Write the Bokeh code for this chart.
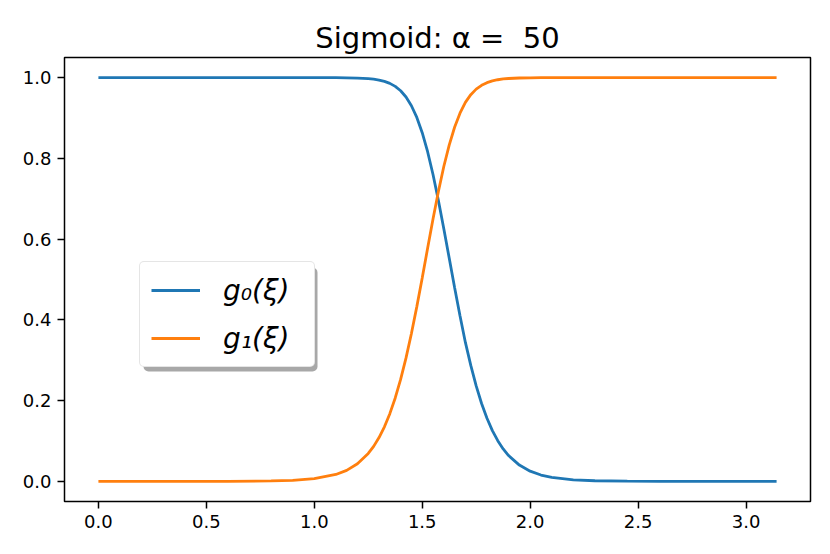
from bokeh.plotting import figure
from bokeh.models import (Range1d, FixedTicker, Legend, LegendItem,
                          NumeralTickFormatter, BoxAnnotation)
from bokeh.embed import file_html
from bokeh.resources import INLINE

# values
xi = [0.0, 0.3, 0.6, 0.8, 0.9, 1.0, 1.1, 1.15, 1.2, 1.25, 1.275, 1.3, 1.325, 1.35,
      1.375, 1.4, 1.425, 1.45, 1.475, 1.5, 1.525, 1.55, 1.575, 1.6, 1.625, 1.65,
      1.675, 1.7, 1.725, 1.75, 1.775, 1.8, 1.825, 1.85, 1.875, 1.9, 1.95, 2.0,
      2.05, 2.1, 2.2, 2.3, 2.45, 2.6, 2.85, 3.14159]
g0 = [1.0, 1.0, 1.0, 1.0, 1.0, 1.0, 0.9999, 0.9996, 0.999, 0.9976, 0.9962, 0.9941,
      0.9908, 0.9859, 0.9785, 0.9676, 0.9521, 0.9305, 0.9015, 0.8637, 0.8166,
      0.7602, 0.6959, 0.6258, 0.5532, 0.4802, 0.4102, 0.3441, 0.2871, 0.2363,
      0.1928, 0.1561, 0.1256, 0.1006, 0.0803, 0.0639, 0.0402, 0.0251, 0.0156,
      0.0097, 0.0037, 0.0014, 0.0004, 0.0001, 0.0, 0.0]
g1 = [0.0, 0.0, 0.0001, 0.001, 0.0025, 0.0065, 0.0169, 0.0272, 0.0435, 0.069,
      0.0866, 0.1084, 0.1351, 0.1676, 0.2065, 0.2524, 0.3058, 0.3662, 0.4328,
      0.504, 0.5772, 0.6497, 0.7182, 0.78, 0.8331, 0.8772, 0.912, 0.9389, 0.9579,
      0.9717, 0.9812, 0.9877, 0.9921, 0.9949, 0.9968, 0.998, 0.9992, 0.9997,
      0.9999, 1.0, 1.0, 1.0, 1.0, 1.0, 1.0, 1.0]
x_ticks = [0.0, 0.5, 1.0, 1.5, 2.0, 2.5, 3.0]
y_ticks = [0.0, 0.2, 0.4, 0.6, 0.8, 1.0]
labels = ["g\u2080(\u03be)", "g\u2081(\u03be)"]
colors = ["#1f77b4", "#ff7f0e"]
title_text = "Sigmoid: \u03b1 =\u00a0 50"

FONT = "DejaVu Sans"

p = figure(width=820, height=546, output_backend="svg", toolbar_location=None,
           x_range=Range1d(-0.1571, 3.2987), y_range=Range1d(-0.05, 1.05),
           min_border_left=64, min_border_right=10, min_border_top=57,
           min_border_bottom=45)
p.title.text = title_text
p.title.align = "center"
p.title.text_font = FONT
p.title.text_font_size = "29px"
p.title.text_font_style = "normal"
p.title.text_color = "black"
p.title.standoff = 6

p.grid.visible = False
p.outline_line_color = "black"
p.outline_line_width = 1.5
p.outline_line_alpha = 1.0

for ax, ticks in ((p.xaxis, x_ticks), (p.yaxis, y_ticks)):
    ax.ticker = FixedTicker(ticks=ticks)
    ax.formatter = NumeralTickFormatter(format="0.0")
    ax.axis_line_color = None
    ax.major_tick_line_color = "black"
    ax.major_tick_line_width = 1.5
    ax.major_tick_out = 7
    ax.major_tick_in = 0
    ax.minor_tick_line_color = None
    ax.major_label_text_font = FONT
    ax.major_label_text_font_size = "18px"
    ax.major_label_text_color = "black"
    ax.major_label_standoff = 6

r0 = p.line(xi, g0, line_color=colors[0], line_width=2.8)
r1 = p.line(xi, g1, line_color=colors[1], line_width=2.8)

# legend drop shadow (screen pixels relative to the frame, y up from bottom)
shadow = BoxAnnotation(left=79, right=253, top=234, bottom=130,
                       left_units="screen", right_units="screen",
                       top_units="screen", bottom_units="screen",
                       fill_color="#999999", fill_alpha=0.85, line_color=None)
try:
    shadow.border_radius = 5
except Exception:
    pass
p.add_layout(shadow)

legend = Legend(items=[LegendItem(label=labels[0], renderers=[r0]),
                       LegendItem(label=labels[1], renderers=[r1])],
                location=(75, 134), orientation="vertical")
legend.label_text_font = FONT
legend.label_text_font_size = "28px"
legend.label_text_font_style = "italic"
legend.label_text_color = "black"
legend.glyph_width = 49
legend.glyph_height = 34
legend.label_height = 34
legend.label_width = 80
legend.label_standoff = 23
legend.spacing = 14
legend.padding = 11
legend.margin = 0
legend.border_line_color = "#cccccc"
legend.border_line_width = 1.5
legend.background_fill_color = "white"
legend.background_fill_alpha = 1.0
try:
    legend.border_radius = 5
except Exception:
    pass
p.add_layout(legend, "center")

open("out.html", "w").write(file_html(p, INLINE))
